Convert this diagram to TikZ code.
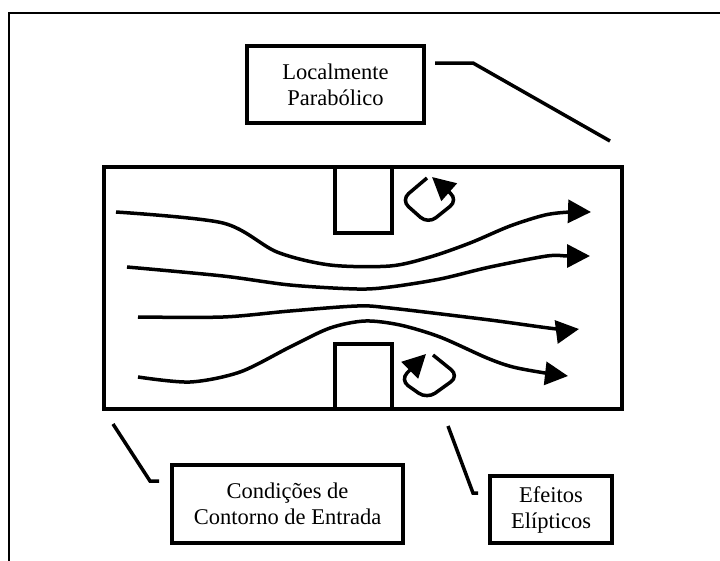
\documentclass[tikz,border=0pt]{standalone}
\usepackage{fontspec}
\setmainfont{Liberation Serif}
\usetikzlibrary{arrows.meta}

\begin{document}
\begin{tikzpicture}[x=1pt,y=-1pt,line width=3.2pt,
  box/.style={draw, line width=4pt, inner sep=0pt, align=center, font=\fontsize{22.5}{26}\selectfont},
  flow/.style={line width=3.5pt, -{Triangle[length=23pt,width=23pt]}},
  lead/.style={line width=3.5pt}]

\clip (0,0) rectangle (720,560);
\draw [line width=2pt] (9,13) rectangle (740,580);

\draw [line width=4pt] (104,167) rectangle (622,409);
\draw (335,167) rectangle (392,233);
\draw (335,344) rectangle (392,409);

\draw [flow] plot [smooth] coordinates {(116,212) (223,223) (277,252) (330,265) (390,266) (430,257) (470,243) (510,226) (545,215) (570,212) (591,212)};
\draw [flow] plot [smooth] coordinates {(127,267) (223,276) (290,285) (357,289) (390,287) (440,279) (490,267) (547,256) (568,256) (590,256)};
\draw [flow] plot [smooth] coordinates {(138,317) (223,317) (290,311) (357,306) (390,308) (490,320) (557,329) (579,329)};
\draw [flow] plot [smooth] coordinates {(138,377) (190,382) (240,372) (290,347) (330,328) (365,321) (400,325) (440,337) (487,358) (513,367) (545,373) (568,376)};

\draw [flow, rounded corners=10pt] (427,178) -- (401,200) -- (428,224) -- (458,200) -- (432,177);
\draw [flow, rounded corners=10pt] (433,355) -- (459,376) -- (427,399) -- (400,380) -- (426,354);

\node [box, minimum width=177pt, minimum height=77pt] (para) at (335.5,84.5) {Localmente\\Parabólico};
\node [box, minimum width=231pt, minimum height=78pt] (entrada) at (287.5,504) {Condições de\\Contorno de Entrada};
\node [box, minimum width=122pt, minimum height=67pt] (elip) at (551,509.5) {Efeitos\\Elípticos};

\coordinate (paraA) at (435,63);
\coordinate (paraB) at (473,63);
\coordinate (paraC) at (610,141);
\coordinate (entradaA) at (113,424);
\coordinate (entradaB) at (150,481);
\coordinate (entradaC) at (159,481);
\coordinate (elipA) at (448,426);
\coordinate (elipB) at (473,493);
\coordinate (elipC) at (478,493);

\draw [lead] (paraA) -- (paraB) -- (paraC);
\draw [lead] (entradaA) -- (entradaB) -- (entradaC);
\draw [lead] (elipA) -- (elipB) -- (elipC);

\end{tikzpicture}
\end{document}
